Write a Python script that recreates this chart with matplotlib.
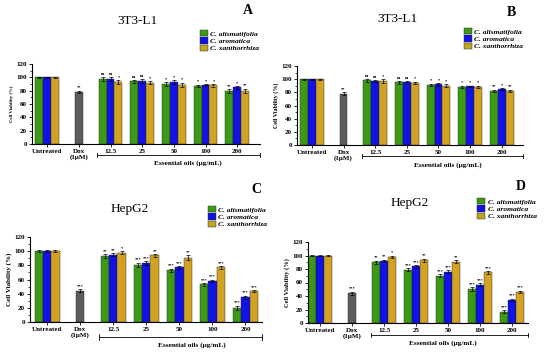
import numpy as np
import matplotlib
matplotlib.use("Agg")
import matplotlib.pyplot as plt
from matplotlib.patches import Patch
from matplotlib.lines import Line2D

plt.rcParams['font.family'] = ['Liberation Serif', 'DejaVu Serif']

# ---------------- data ----------------
categories = ["Untreated", "Dox\n(1\u03bcM)", "12.5", "25", "50", "100", "200"]
species = ["C. alismatifolia", "C. aromatica", "C. xanthorrhiza"]
xlabel_text = "Essential oils (\u03bcg/mL)"
ylabel_text = "Cell Viability (%)"

# Panel A (3T3-L1)
A_untreated = [100, 100, 100]
A_dox = 78
A_alis = [97, 94, 90, 87, 79]
A_arom = [97, 95, 93, 89, 85]
A_xan = [93, 92, 89, 88, 80]
A_err_alis = [3, 2, 3, 2, 3]
A_err_arom = [3, 3, 3, 1, 2]
A_err_xan = [3, 2, 3, 2, 3]
A_dox_err = 2
A_dox_sig = "**"
A_sig = [["ns", "ns", "*"], ["ns", "ns", "*"], ["*", "*", "*"], ["*", "*", "*"], ["**", "*", "**"]]

# Panel B (3T3-L1)
B_untreated = [100, 100, 100]
B_dox = 78
B_alis = [98, 95, 91, 88, 82]
B_arom = [97, 95, 92, 89, 85]
B_xan = [97, 94, 90, 88, 82]
B_err_alis = [3, 2, 2, 2, 2]
B_err_arom = [2, 2, 2, 1, 1]
B_err_xan = [3, 2, 2, 2, 2]
B_dox_err = 2
B_dox_sig = "**"
B_sig = [["ns", "ns", "*"], ["ns", "ns", "*"], ["*", "*", "*"], ["*", "*", "*"], ["**", "*", "**"]]

# Panel C (HepG2)
C_untreated = [100, 100, 100]
C_dox = 44
C_alis = [93, 81, 73, 53, 20]
C_arom = [95, 83, 77, 58, 35]
C_xan = [98, 94, 91, 77, 44]
C_err_alis = [3, 3, 2, 2, 3]
C_err_arom = [2, 3, 2, 2, 2]
C_err_xan = [2, 2, 3, 2, 1]
C_dox_err = 2
C_dox_sig = "***"
C_sig = [["**", "**", "*"], ["***", "***", "**"], ["***", "***", "**"], ["***", "***", "***"], ["***", "***", "***"]]

# Panel D (HepG2)
D_untreated = [100, 100, 100]
D_dox = 44
D_alis = [90, 79, 70, 50, 17]
D_arom = [92, 84, 76, 57, 34]
D_xan = [98, 93, 91, 75, 46]
D_err_alis = [2, 2, 2, 3, 2]
D_err_arom = [2, 2, 2, 2, 2]
D_err_xan = [2, 2, 2, 2, 2]
D_dox_err = 2
D_dox_sig = "***"
D_sig = [["**", "**", "*"], ["***", "***", "**"], ["***", "***", "**"], ["***", "***", "***"], ["***", "***", "***"]]

colors = ["#3c9a14", "#1212e6", "#d2a222"]
legend_colors = ["#3c9a14", "#1212e6", "#bfa61e"]
dox_color = "#5c5c5c"

W, H = 550, 353
fig = plt.figure(figsize=(W / 100, H / 100), dpi=100)


def fx(x):
    return x / W


def fy(y):
    return 1 - y / H


def panel(rect_px, xlim, untreated, dox, dox_err, dox_sig, alis, arom, xan, ea, eb, ec, sig,
          title, title_xy, letter, letter_xy, leg_xy, bracket_y, label_xy, ylab_size):
    x0, y_top, x1, y_bot = rect_px
    ax = fig.add_axes([fx(x0), fy(y_bot), (x1 - x0) / W, (y_bot - y_top) / H])
    bw = 0.25
    offs = [-bw, 0, bw]
    for k in range(3):
        ax.bar(0 + offs[k], untreated[k], bw, color=colors[k], edgecolor="#222222", lw=0.3,
               yerr=1, error_kw=dict(lw=0.5, capsize=1.2, capthick=0.5))
    ax.bar(1, dox, bw, color=dox_color, edgecolor="#222222", lw=0.3,
           yerr=dox_err, error_kw=dict(lw=0.5, capsize=1.2, capthick=0.5))
    ax.text(1, dox + dox_err + 2, dox_sig, ha="center", va="bottom", fontsize=3.2, fontweight="bold")
    series = [alis, arom, xan]
    errs = [ea, eb, ec]
    for k in range(3):
        xs = np.arange(2, 7) + offs[k]
        ax.bar(xs, series[k], bw, color=colors[k], edgecolor="#222222", lw=0.3,
               yerr=errs[k], error_kw=dict(lw=0.5, capsize=1.2, capthick=0.5))
        for i in range(5):
            ax.text(xs[i], series[k][i] + errs[k][i] + 1.5, sig[i][k], ha="center", va="bottom",
                    fontsize=3.2, fontweight="bold")
    ax.set_xlim(*xlim)
    ax.set_ylim(0, 120)
    ax.set_yticks(range(0, 121, 20))
    ax.set_yticks(range(10, 120, 20), minor=True)
    ax.set_xticks(range(7))
    ax.set_xticklabels(categories, fontsize=5, fontweight="bold", linespacing=1.1)
    for t in ax.get_yticklabels():
        t.set_fontsize(5)
        t.set_fontweight("bold")
    ax.tick_params(axis="both", length=2, width=0.6, pad=1.5)
    ax.tick_params(axis="y", which="minor", length=1.2, width=0.5)
    ax.spines["top"].set_visible(False)
    ax.spines["right"].set_visible(False)
    ax.spines["left"].set_linewidth(0.8)
    ax.spines["bottom"].set_linewidth(0.8)
    ax.set_ylabel(ylabel_text, fontsize=ylab_size, fontweight="bold", labelpad=2)
    ph = y_bot - y_top
    by = -(bracket_y - y_bot) / ph
    tr = ax.get_xaxis_transform()
    bx0 = 2 - 0.42
    bx1 = xlim[1]
    ax.add_line(Line2D([bx0, bx1], [by, by], transform=tr, color="black", lw=0.6, clip_on=False))
    for bx in (bx0, bx1):
        ax.add_line(Line2D([bx, bx], [by - 0.03, by + 0.03], transform=tr, color="black", lw=0.6,
                           clip_on=False))
    fig.text(fx(label_xy[0]), fy(label_xy[1]), xlabel_text, ha="center", va="center",
             fontsize=5.2, fontweight="bold")
    fig.text(fx(title_xy[0]), fy(title_xy[1]), title, ha="center", va="center", fontsize=9.5)
    fig.text(fx(letter_xy[0]), fy(letter_xy[1]), letter, ha="center", va="center", fontsize=10,
             fontweight="bold")
    handles = [Patch(facecolor=legend_colors[k], edgecolor="#222222", lw=0.3) for k in range(3)]
    fig.legend(handles, species, loc="upper left", bbox_to_anchor=(fx(leg_xy[0]), fy(leg_xy[1])),
               frameon=False, prop=dict(size=5.4, style="italic", weight="bold"),
               handlelength=1.0, handleheight=0.9, handletextpad=0.4, labelspacing=0.08,
               borderpad=0, borderaxespad=0)
    return ax


panel((32, 64, 260, 144), (-0.48, 6.72), A_untreated, A_dox, A_dox_err, A_dox_sig,
      A_alis, A_arom, A_xan, A_err_alis, A_err_arom, A_err_xan, A_sig,
      "3T3-L1", (137, 21), "A", (248, 11), (200, 30), 155, (188, 163), 3.4)
panel((297, 66, 523, 145), (-0.47, 6.67), B_untreated, B_dox, B_dox_err, B_dox_sig,
      B_alis, B_arom, B_xan, B_err_alis, B_err_arom, B_err_xan, B_sig,
      "3T3-L1", (398, 19), "B", (511, 12), (464, 28), 156, (448, 165), 4.3)
panel((30, 237, 262, 322), (-0.52, 6.5), C_untreated, C_dox, C_dox_err, C_dox_sig,
      C_alis, C_arom, C_xan, C_err_alis, C_err_arom, C_err_xan, C_sig,
      "HepG2", (130, 209), "C", (256, 190), (208, 206), 337, (192, 345), 5.0)
panel((308, 242, 528, 323), (-0.38, 6.5), D_untreated, D_dox, D_dox_err, D_dox_sig,
      D_alis, D_arom, D_xan, D_err_alis, D_err_arom, D_err_xan, D_sig,
      "HepG2", (410, 203), "D", (521, 186), (477, 198), 335, (443, 343), 4.6)

fig.savefig("out.png", dpi=100)
